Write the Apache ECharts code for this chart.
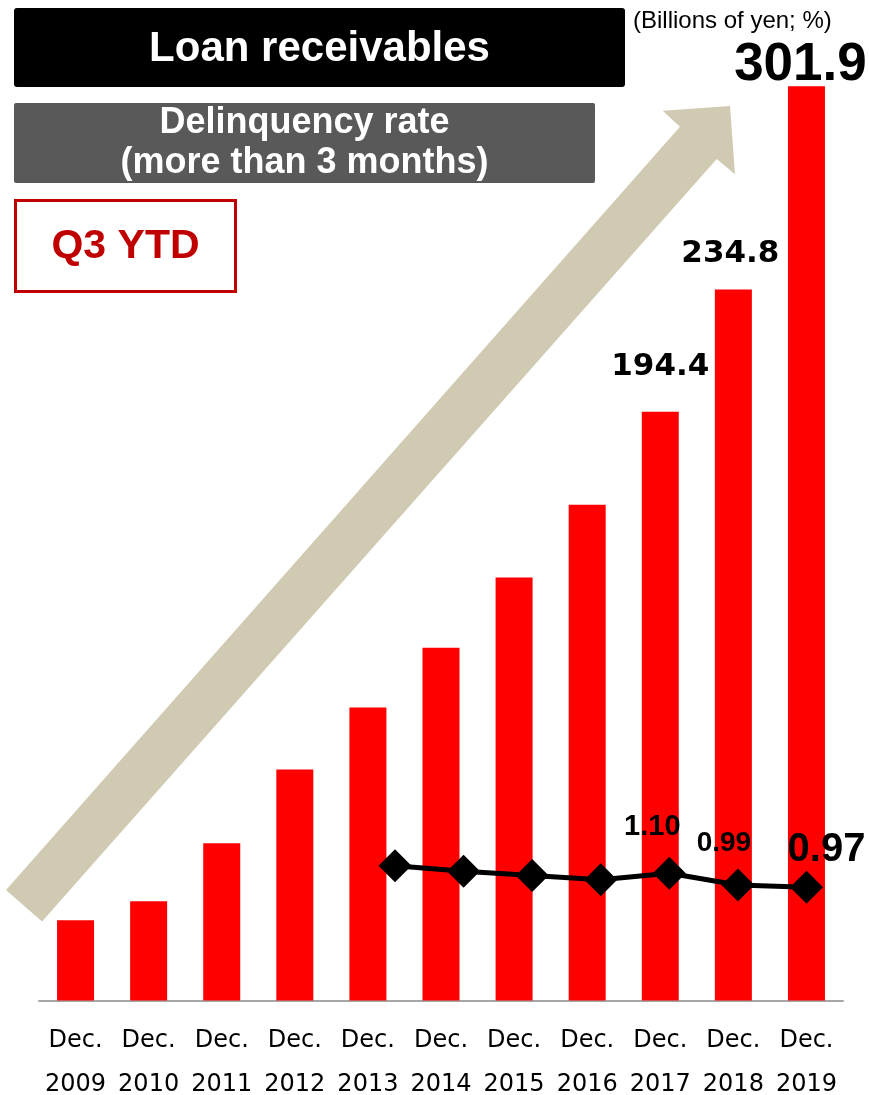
<!DOCTYPE html>
<html>
<head>
<meta charset="utf-8">
<script src="https://cdn.jsdelivr.net/npm/echarts@6/dist/echarts.min.js"></script>
<style>
html,body{margin:0;padding:0;background:#fff;}
#chart{width:869px;height:1095px;}
</style>
</head>
<body>
<div id="chart"></div>
<script>
// ---- data ----
const categories = ['Dec.\n2009','Dec.\n2010','Dec.\n2011','Dec.\n2012','Dec.\n2013','Dec.\n2014','Dec.\n2015','Dec.\n2016','Dec.\n2017','Dec.\n2018','Dec.\n2019'];
const loanReceivables = [26.5, 32.8, 51.9, 76.3, 96.8, 116.5, 139.7, 163.7, 194.4, 234.8, 301.9];
const rateCategories = ['Dec. 2013','Dec. 2014','Dec. 2015','Dec. 2016','Dec. 2017','Dec. 2018','Dec. 2019'];
const delinquencyRate = [1.17, 1.12, 1.08, 1.04, 1.10, 0.99, 0.97];
const titleText = 'Loan receivables';
const subtitleText = 'Delinquency rate\n(more than 3 months)';
const periodText = 'Q3 YTD';
const unitText = '(Billions of yen; %)';

// ---- styles ----
const ARIAL = '"Liberation Sans", Arial, sans-serif';
const VERDANA = '"DejaVu Sans", Verdana, sans-serif';
const barLabelStyle = {
  8: {fontSize: 31, fontFamily: VERDANA, offset: [0, -29]},
  9: {fontSize: 31, fontFamily: VERDANA, offset: [-3, -20]},
  10: {fontSize: 53, fontFamily: ARIAL, offset: [-6, 6]}
};
const lineLabelStyle = {
  4: {fontSize: 29, offset: [-17, -46]},
  5: {fontSize: 28, offset: [-14, -42]},
  6: {fontSize: 40, offset: [20, -37]}
};

const barData = loanReceivables.map((v, i) => {
  const s = barLabelStyle[i];
  if (!s) return v;
  return {
    value: v,
    label: {
      show: true, position: 'top', distance: 0,
      offset: s.offset,
      fontSize: s.fontSize, lineHeight: s.fontSize,
      fontFamily: s.fontFamily, fontWeight: 'bold', color: '#000',
      formatter: p => p.value.toFixed(1)
    }
  };
});
const lineData = delinquencyRate.map((v, i) => {
  const s = lineLabelStyle[i];
  if (!s) return v;
  return {
    value: v,
    label: {
      show: true, position: 'inside',
      offset: s.offset,
      fontSize: s.fontSize, lineHeight: s.fontSize,
      fontFamily: ARIAL, fontWeight: 'bold', color: '#000',
      align: 'center', verticalAlign: 'middle',
      formatter: p => p.value.toFixed(2)
    }
  };
});

const chart = echarts.init(document.getElementById('chart'), null, {renderer: 'canvas'});
chart.setOption({
  animation: false,
  backgroundColor: '#fff',
  grid: [
    {left: 39, right: 26, top: 31.5, bottom: 94.5, containLabel: false, outerBoundsMode: 'none'},
    {left: 395, right: 62.5, top: 777, bottom: 104, containLabel: false, outerBoundsMode: 'none'}
  ],
  xAxis: [
    {
      type: 'category', gridIndex: 0, data: categories,
      axisLine: {lineStyle: {color: '#a6a6a6', width: 2}},
      axisTick: {show: false},
      axisLabel: {interval: 0, fontFamily: VERDANA, fontSize: 24, lineHeight: 44, color: '#000', margin: 18}
    },
    {type: 'category', gridIndex: 1, data: rateCategories, boundaryGap: false, show: false}
  ],
  yAxis: [
    {type: 'value', gridIndex: 0, min: 0, max: 320, show: false, splitLine: {show: false}},
    {type: 'value', gridIndex: 1, min: 0, max: 2, show: false, splitLine: {show: false}}
  ],
  graphic: [
    {
      type: 'polygon', z: 0,
      shape: {points: [[6,890],[680,126.7],[662.7,110.7],[730,106],[735,174.3],[716.7,159],[42,921.5]]},
      style: {fill: '#cfcab1'}
    },
    {type: 'rect', z: 10, shape: {x: 14, y: 8, width: 611, height: 79, r: 3}, style: {fill: '#000'}},
    {type: 'text', z: 11, x: 319.5, y: 49, style: {text: titleText, fill: '#fff', font: 'bold 42px ' + ARIAL, align: 'center', verticalAlign: 'middle'}},
    {type: 'rect', z: 10, shape: {x: 14, y: 103, width: 581, height: 80, r: 2}, style: {fill: '#595959'}},
    {type: 'text', z: 11, x: 304.5, y: 143, style: {text: subtitleText, fill: '#fff', font: 'bold 36px ' + ARIAL, lineHeight: 40, align: 'center', verticalAlign: 'middle'}},
    {type: 'rect', z: 10, shape: {x: 15.5, y: 200.5, width: 220, height: 91}, style: {fill: '#fff', stroke: '#c00000', lineWidth: 3}},
    {type: 'text', z: 11, x: 125.5, y: 247, style: {text: periodText, fill: '#c00000', font: 'bold 41px ' + ARIAL, align: 'center', verticalAlign: 'middle'}},
    {type: 'text', z: 11, x: 633, y: 21, style: {text: unitText, fill: '#000', font: '24px ' + ARIAL, align: 'left', verticalAlign: 'middle'}}
  ],
  series: [
    {
      type: 'bar', xAxisIndex: 0, yAxisIndex: 0, data: barData,
      barWidth: 37, itemStyle: {color: '#ff0000'}, z: 2
    },
    {
      type: 'line', xAxisIndex: 1, yAxisIndex: 1, data: lineData,
      symbol: 'diamond', symbolSize: 33,
      lineStyle: {color: '#000', width: 5},
      itemStyle: {color: '#000'}, z: 3
    }
  ]
});
</script>
</body>
</html>
